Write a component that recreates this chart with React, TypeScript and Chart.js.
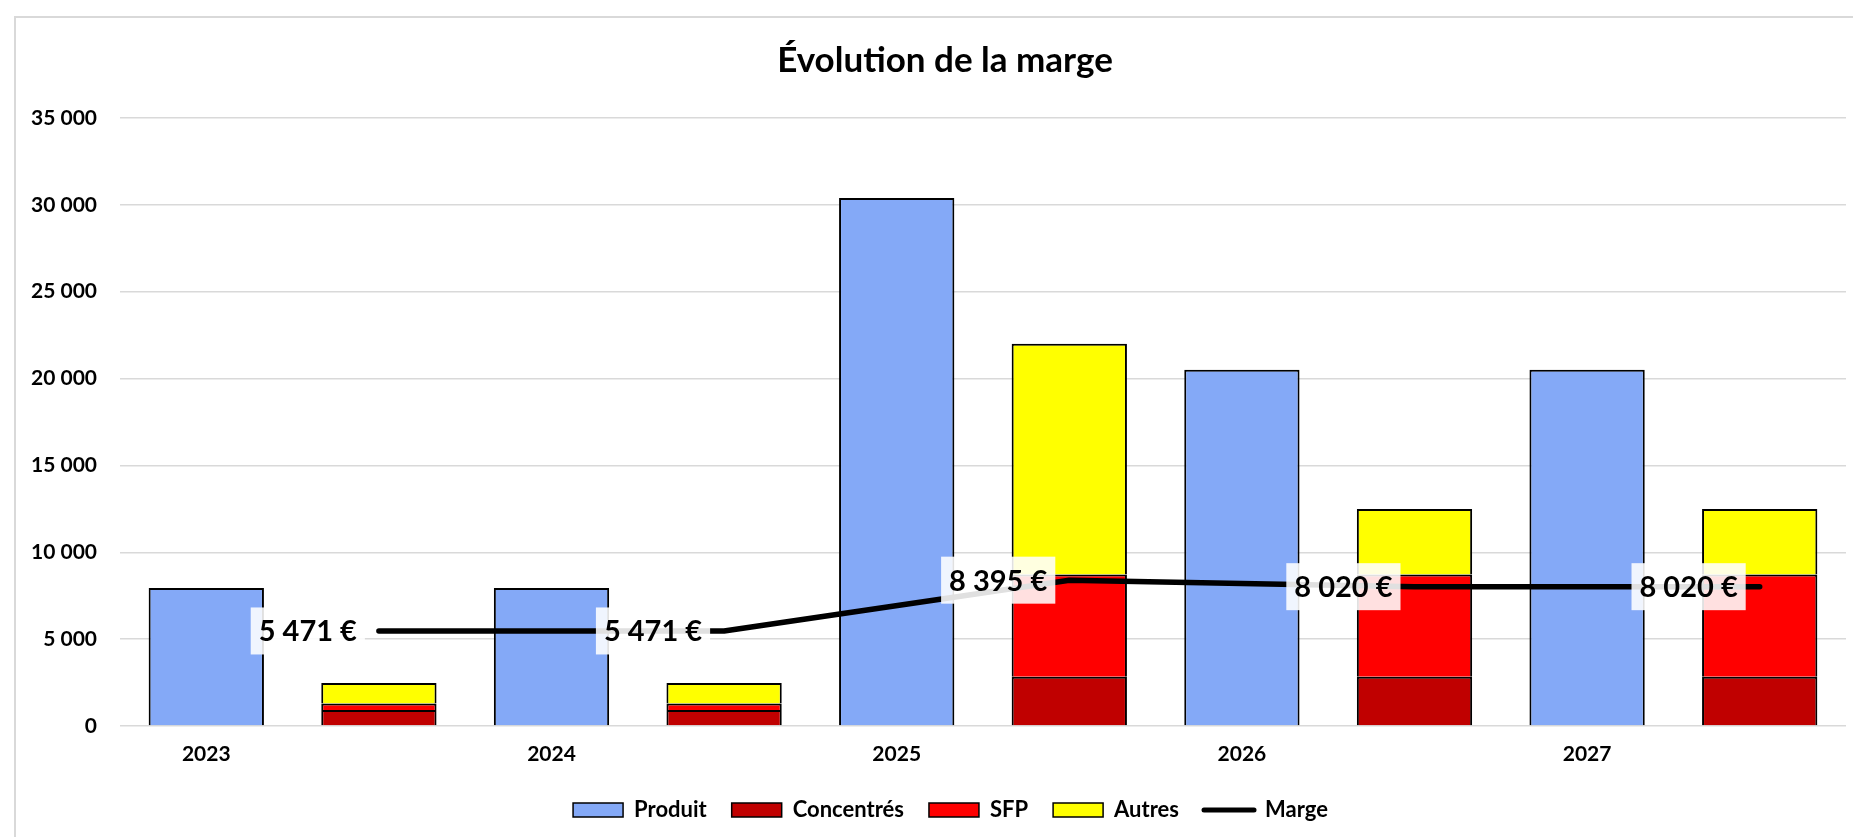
import React, { useEffect, useRef } from 'react';
import { Chart, registerables } from 'chart.js';

Chart.register(...registerables);

const categories = ['2023', '', '2024', '', '2025', '', '2026', '', '2027', ''];
const produit = [7950, null, 7950, null, 30400, null, 20510, null, 20510, null];
const concentres = [null, 920, null, 920, null, 2830, null, 2830, null, 2830];
const sfp = [null, 380, null, 380, null, 5890, null, 5890, null, 5890];
const autres = [null, 1180, null, 1180, null, 13280, null, 3770, null, 3770];
const marge = [null, 5471, null, 5471, null, 8395, null, 8020, null, 8020];

const seriesNames = ['Produit', 'Concentrés', 'SFP', 'Autres', 'Marge'];
const seriesColors = ['#84A9F7', '#C00000', '#FF0000', '#FFFF00', '#000000'];
const titleText = 'Évolution de la marge';
const FONT = 'Lato, "Open Sans", sans-serif';

const fmt = (v: number) =>
  Math.round(v)
    .toString()
    .replace(/\B(?=(\d{3})+(?!\d))/g, ' ');

const framePlugin = {
  id: 'frameTitle',
  beforeDraw(chart: any) {
    const ctx = chart.ctx;
    ctx.save();
    ctx.fillStyle = '#ffffff';
    ctx.fillRect(0, 0, chart.width, chart.height);
    ctx.strokeStyle = '#D9D9D9';
    ctx.lineWidth = 2;
    ctx.beginPath();
    ctx.moveTo(15, chart.height + 5);
    ctx.lineTo(15, 17);
    ctx.lineTo(chart.width + 5, 17);
    ctx.stroke();
    ctx.fillStyle = '#000';
    ctx.font = `bold 35px ${FONT}`;
    ctx.textAlign = 'center';
    ctx.textBaseline = 'alphabetic';
    ctx.fillText(titleText, 945, 72);
    ctx.restore();
  },
};

const legendShift = {
  id: 'legendShift',
  afterLayout(chart: any) {
    const l = chart.legend;
    if (l) {
      l.left += 20;
      l.right += 20;
    }
  },
};

const labelPlugin = {
  id: 'margeLabels',
  afterDatasetsDraw(chart: any) {
    const idx = chart.data.datasets.findIndex((d: any) => d.type === 'line');
    if (idx < 0) return;
    const meta = chart.getDatasetMeta(idx);
    const ctx = chart.ctx;
    ctx.save();
    ctx.font = `bold 29px ${FONT}`;
    meta.data.forEach((pt: any, i: number) => {
      const v = marge[i];
      if (v == null) return;
      const text = fmt(v) + ' €';
      const tw = ctx.measureText(text).width;
      const w = tw + 16;
      const h = 47;
      const right = pt.x - 14;
      ctx.fillStyle = 'rgba(255,255,255,0.88)';
      ctx.fillRect(right - w, pt.y - h / 2, w, h);
      ctx.fillStyle = '#000';
      ctx.textAlign = 'center';
      ctx.textBaseline = 'middle';
      ctx.fillText(text, right - w / 2, pt.y + 1);
    });
    ctx.restore();
  },
};

export default function App() {
  const ref = useRef<HTMLCanvasElement | null>(null);

  useEffect(() => {
    if (!ref.current) return;
    const barCommon = {
      type: 'bar' as const,
      stack: 'charges',
      borderColor: '#000000',
      borderWidth: 2,
      barPercentage: 0.668,
      categoryPercentage: 1,
      order: 1,
    };
    const chart = new Chart(ref.current, {
      type: 'bar',
      data: {
        labels: categories,
        datasets: [
          { ...barCommon, label: seriesNames[0], data: produit, backgroundColor: seriesColors[0] },
          { ...barCommon, label: seriesNames[1], data: concentres, backgroundColor: seriesColors[1] },
          { ...barCommon, label: seriesNames[2], data: sfp, backgroundColor: seriesColors[2] },
          { ...barCommon, label: seriesNames[3], data: autres, backgroundColor: seriesColors[3] },
          {
            type: 'line',
            label: seriesNames[4],
            data: marge,
            stack: 'marge',
            borderColor: seriesColors[4],
            backgroundColor: seriesColors[4],
            borderWidth: 5.5,
            borderCapStyle: 'round',
            borderJoinStyle: 'round',
            pointRadius: 0,
            pointHoverRadius: 0,
            spanGaps: true,
            tension: 0,
            fill: false,
            order: 0,
          } as any,
        ],
      },
      options: {
        animation: false,
        responsive: false,
        maintainAspectRatio: false,
        layout: { padding: { left: 15, right: 7, top: 118, bottom: 6 } },
        plugins: {
          title: { display: false },
          tooltip: { enabled: false },
          legend: {
            display: true,
            position: 'bottom',
            labels: {
              usePointStyle: true,
              pointStyleWidth: 50,
              boxHeight: 14,
              padding: 25,
              color: '#000',
              font: { family: FONT, size: 22, weight: 'bold' },
              generateLabels: (c: any) =>
                c.data.datasets.map((ds: any, i: number) => {
                  const isLine = ds.type === 'line';
                  return {
                    text: ds.label,
                    fillStyle: ds.backgroundColor,
                    strokeStyle: '#000',
                    lineWidth: isLine ? 5 : 1.5,
                    lineCap: isLine ? 'round' : 'butt',
                    pointStyle: isLine ? 'line' : 'rect',
                    hidden: false,
                    datasetIndex: i,
                    fontColor: '#000',
                  };
                }),
            },
          },
        },
        scales: {
          x: {
            stacked: true,
            grid: { display: false, drawTicks: false },
            border: { display: false },
            ticks: {
              autoSkip: false,
              maxRotation: 0,
              padding: 16,
              color: '#000',
              font: { family: FONT, size: 21, weight: 'bold' },
            },
            afterFit: (s: any) => {
              s.height = 48;
            },
          },
          y: {
            stacked: true,
            min: 0,
            max: 35000,
            grid: { color: '#D9D9D9', lineWidth: 1.5, drawTicks: false },
            border: { display: false },
            ticks: {
              stepSize: 5000,
              padding: 23,
              color: '#000',
              font: { family: FONT, size: 21, weight: 'bold' },
              callback: (v: any) => fmt(Number(v)),
            },
            afterFit: (s: any) => {
              s.width = 105;
            },
          },
        },
      } as any,
      plugins: [framePlugin, legendShift, labelPlugin],
    });
    return () => chart.destroy();
  }, []);

  return (
    <div style={{ position: 'fixed', left: 0, top: 0, width: 1853, height: 837, background: '#fff' }}>
      <canvas ref={ref} width={1853} height={837} style={{ width: 1853, height: 837, display: 'block' }} />
    </div>
  );
}
